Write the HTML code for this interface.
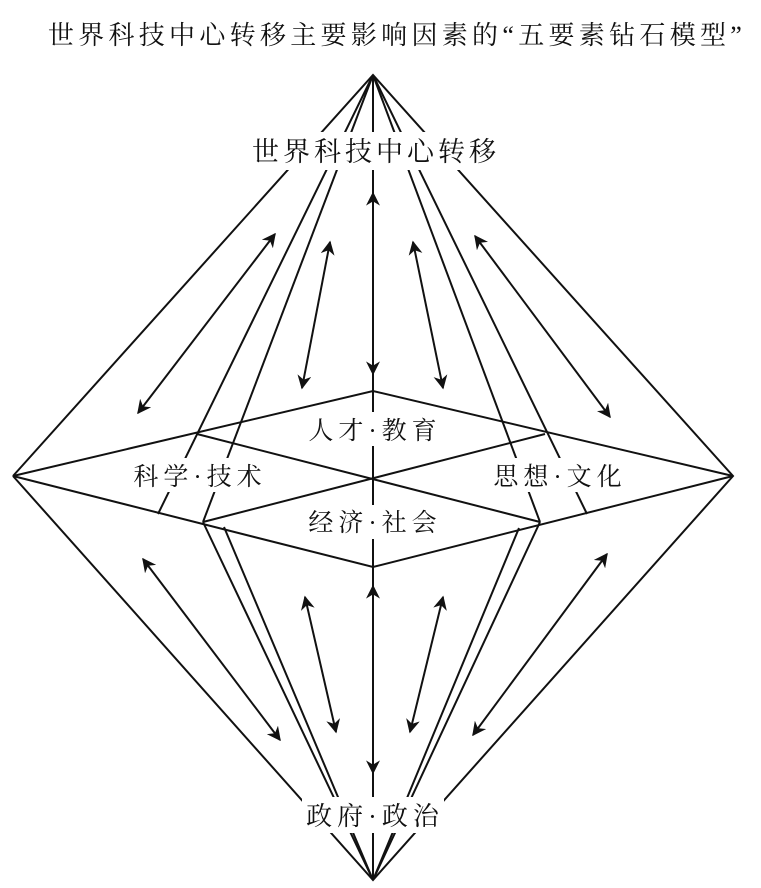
<!DOCTYPE html>
<html><head><meta charset="utf-8"><style>
html,body{margin:0;padding:0;background:#fff;width:761px;height:888px;overflow:hidden}
text{font-family:"Liberation Serif","Noto Serif CJK SC","Noto Serif CJK JP",serif;fill:#111}
</style></head><body>
<svg width="761" height="888" viewBox="0 0 761 888" xmlns="http://www.w3.org/2000/svg">
<defs>
<marker id="a" viewBox="0 0 10 10" refX="9" refY="5" markerWidth="14" markerHeight="14" markerUnits="userSpaceOnUse" orient="auto-start-reverse">
<path d="M0,0 L10,5 L0,10 L3,5 z" fill="#111"/></marker>
</defs>
<g stroke="#111" stroke-width="2" fill="none">
<polyline points="13,476 373,75 733,476 373,880 13,476"/>
<line x1="373" y1="75" x2="158" y2="514"/>
<line x1="373" y1="75" x2="203" y2="522"/>
<line x1="373" y1="75" x2="587" y2="514"/>
<line x1="373" y1="75" x2="540" y2="522"/>
<line x1="373" y1="75" x2="373" y2="880"/>
<line x1="373" y1="880" x2="203" y2="522"/>
<line x1="373" y1="880" x2="224" y2="527"/>
<line x1="373" y1="880" x2="540" y2="522"/>
<line x1="373" y1="880" x2="519" y2="528"/>
<polygon points="13,476 373,391 733,476 373,567"/>
<line x1="197" y1="434" x2="540" y2="522"/>
<line x1="545" y1="434" x2="203" y2="522"/>
</g>
<g stroke="#111" stroke-width="2" fill="none" marker-start="url(#a)" marker-end="url(#a)">
<line x1="275" y1="234" x2="138" y2="413"/>
<line x1="330" y1="242" x2="302" y2="388"/>
<line x1="413" y1="242" x2="443" y2="388"/>
<line x1="475" y1="236" x2="610" y2="417"/>
<line x1="373" y1="193" x2="373" y2="374"/>
<line x1="143" y1="559" x2="280" y2="740"/>
<line x1="305" y1="597" x2="336" y2="732"/>
<line x1="443" y1="597" x2="410" y2="732"/>
<line x1="607" y1="554" x2="473" y2="735"/>
<line x1="373" y1="586" x2="373" y2="773"/>
</g>
<g>
<rect x="250" y="132" width="250" height="38" fill="#fff"/>
<rect x="300" y="412" width="146" height="34" fill="#fff"/>
<rect x="127" y="458" width="142" height="34" fill="#fff"/>
<rect x="487" y="458" width="142" height="34" fill="#fff"/>
<rect x="300" y="505" width="146" height="34" fill="#fff"/>
<rect x="302" y="797" width="142" height="36" fill="#fff"/>
</g>
<text x="397" y="44" font-size="26" text-anchor="middle" letter-spacing="4.3">世界科技中心转移主要影响因素的“五要素钻石模型”</text>
<text x="376" y="161" font-size="27" text-anchor="middle" letter-spacing="4">世界科技中心转移</text>
<text x="375" y="439" font-size="25" text-anchor="middle" letter-spacing="5">人才·教育</text>
<text x="200" y="485" font-size="25" text-anchor="middle" letter-spacing="5">科学·技术</text>
<text x="560" y="485" font-size="25" text-anchor="middle" letter-spacing="5">思想·文化</text>
<text x="375" y="531" font-size="25" text-anchor="middle" letter-spacing="5">经济·社会</text>
<text x="375" y="825" font-size="26" text-anchor="middle" letter-spacing="5">政府·政治</text>
</svg>
</body></html>
